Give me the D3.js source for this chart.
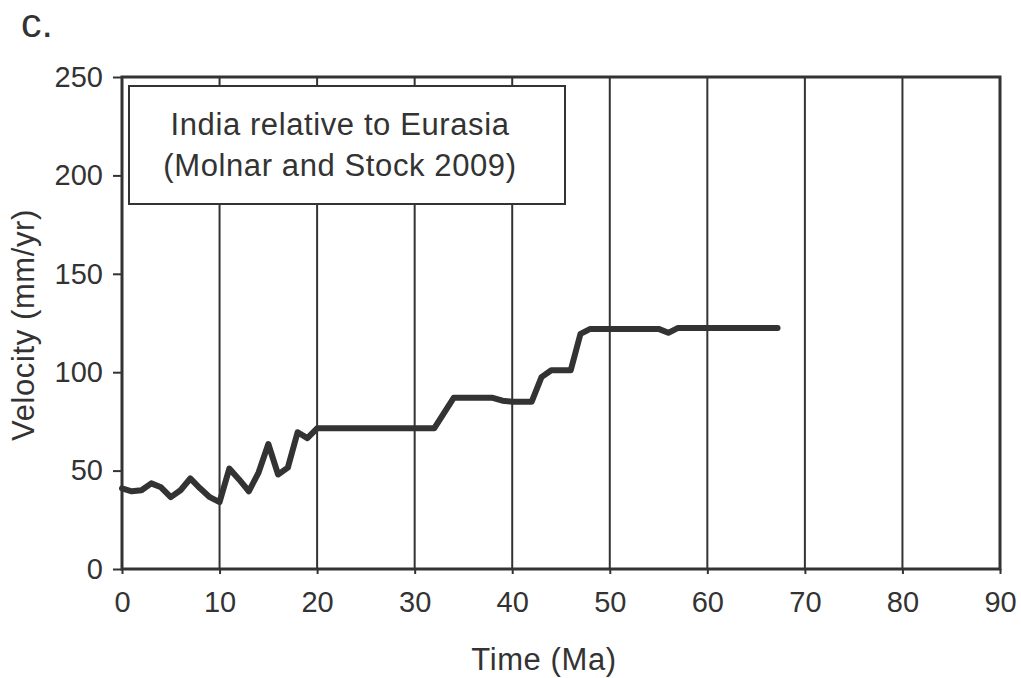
<!DOCTYPE html>
<html>
<head>
<meta charset="utf-8">
<script src="https://cdn.jsdelivr.net/npm/d3@7"></script>
<style>
  body { margin: 0; background: #fff; }
  svg text { font-family: "Liberation Sans", Arial, sans-serif; fill: #333; }
</style>
</head>
<body>
<svg id="chart" width="1021" height="678"></svg>
<script>
// India relative to Eurasia velocity (mm/yr) vs time (Ma)
let timeMa = [0, 1, 2, 3, 4, 5, 6, 7, 8, 9, 10, 11, 12, 13, 14, 15, 16, 17, 18, 19, 20,
  32, 34, 38, 39, 40, 42, 43, 44, 46, 47, 48, 55, 56, 57, 67.2];
let velocity = [41, 39.5, 40, 43.5, 41.5, 36.5, 40, 46, 41, 36.5, 34, 51, 45.5, 39.5, 49, 63.5, 48, 51.5, 69.5, 66.5, 71.5,
  71.5, 87, 87, 85.5, 85, 85, 97.5, 101, 101, 119.5, 122, 122, 120, 122.5, 122.5];
let xTicks = [0, 10, 20, 30, 40, 50, 60, 70, 80, 90];
let yTicks = [0, 50, 100, 150, 200, 250];
let legendLines = ['India relative to Eurasia', '(Molnar and Stock 2009)'];

let svg = d3.select('#chart');
let plotLeft = 122, plotRight = 1000, plotTop = 77, plotBottom = 569;

let x = d3.scaleLinear().domain([0, 90]).range([plotLeft, plotRight]);
let y = d3.scaleLinear().domain([0, 250]).range([plotBottom, plotTop]);

// vertical gridlines
svg.selectAll('.grid')
  .data(xTicks.slice(1, -1))
  .enter()
  .append('line')
  .attr('x1', d => x(d)).attr('x2', d => x(d))
  .attr('y1', plotBottom).attr('y2', plotTop)
  .attr('stroke', '#333').attr('stroke-width', 2);

// axes
let xAxis = svg.append('g')
  .attr('transform', 'translate(0,' + plotBottom + ')')
  .call(d3.axisBottom(x).tickValues(xTicks).tickSize(5).tickPadding(17));
let yAxis = svg.append('g')
  .attr('transform', 'translate(' + plotLeft + ',0)')
  .call(d3.axisLeft(y).tickValues(yTicks).tickSize(9).tickPadding(10));

[xAxis, yAxis].forEach(ax => {
  ax.select('.domain').remove();
  ax.selectAll('line').attr('stroke', '#333').attr('stroke-width', 2);
  ax.selectAll('text').style('font-size', '29px').attr('fill', '#333');
});

// frame
svg.append('rect')
  .attr('x', plotLeft).attr('y', plotTop)
  .attr('width', plotRight - plotLeft).attr('height', plotBottom - plotTop)
  .attr('fill', 'none').attr('stroke', '#333').attr('stroke-width', 3);

// legend box
svg.append('rect')
  .attr('x', 129).attr('y', 86)
  .attr('width', 436).attr('height', 118)
  .attr('fill', '#fff').attr('stroke', '#333').attr('stroke-width', 2);

svg.selectAll('.legendText')
  .data(legendLines)
  .enter()
  .append('text')
  .attr('x', 340)
  .attr('y', (d, i) => 135 + i * 41)
  .attr('text-anchor', 'middle')
  .style('font-size', '31px')
  .style('letter-spacing', '0.6px')
  .text(d => d);

// data line
let line = d3.line()
  .x((d, i) => x(timeMa[i]))
  .y(d => y(d));

svg.append('path')
  .datum(velocity)
  .attr('d', line)
  .attr('fill', 'none')
  .attr('stroke', '#333')
  .attr('stroke-width', 6)
  .attr('stroke-linejoin', 'round')
  .attr('stroke-linecap', 'round');

// labels
svg.append('text')
  .attr('x', 544).attr('y', 670)
  .attr('text-anchor', 'middle')
  .style('font-size', '31px')
  .style('letter-spacing', '0.6px')
  .text('Time (Ma)');

svg.append('text')
  .attr('transform', 'translate(34,325) rotate(-90)')
  .attr('text-anchor', 'middle')
  .style('font-size', '31px')
  .style('letter-spacing', '0.6px')
  .text('Velocity (mm/yr)');

svg.append('text')
  .attr('x', 21).attr('y', 37)
  .style('font-size', '41px')
  .text('c.');
</script>
</body>
</html>
